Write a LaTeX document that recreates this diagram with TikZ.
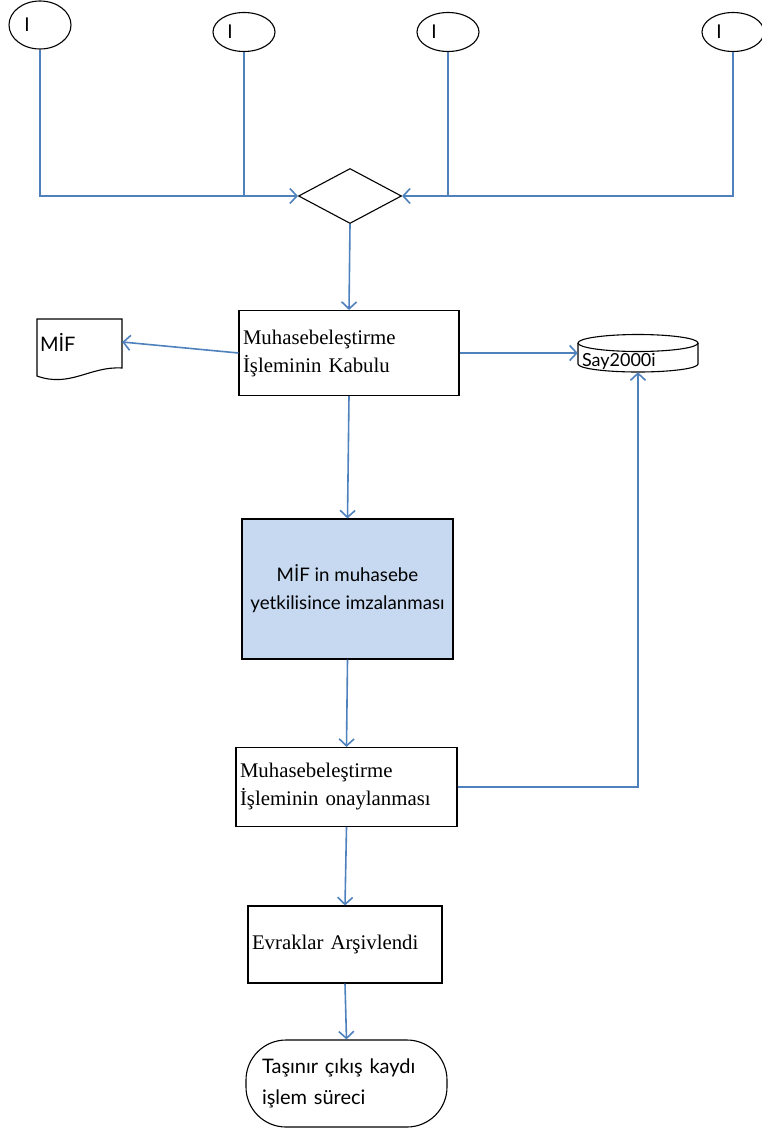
\documentclass[tikz,border=0pt]{standalone}
\usepackage{fontspec}
\setmainfont{Liberation Serif}
\newfontfamily\gill{Lato}
\usetikzlibrary{arrows.meta,shapes.geometric}
\definecolor{linkblue}{RGB}{79,129,189}
\definecolor{boxblue}{RGB}{198,217,241}
\tikzset{
  conn/.style={draw=linkblue, line width=1.6pt},
  arr/.style={conn, -{Straight Barb[length=7pt,width=15pt,line width=1.6pt]}},
  outl/.style={draw=black, line width=1.1pt},
  conn4/.style={ellipse, outl, inner sep=0pt, minimum width=62pt, minimum height=39pt},
  procbox/.style={rectangle, outl, inner sep=4pt, align=left, font=\fontsize{20.8}{28}\selectfont},
  ilbl/.style={font=\gill\fontsize{19}{20}\selectfont},
}
\begin{document}
\begin{tikzpicture}[x=1pt,y=-1pt]
\useasboundingbox (0,0) rectangle (761,1140);

% connectors (ellipses)
\node[conn4, minimum height=48pt, label={[ilbl, xshift=-13pt]center:I}] (e1) at (40,25) {};
\node[conn4, label={[ilbl, xshift=-14pt]center:I}] (e2) at (244,32) {};
\node[conn4, label={[ilbl, xshift=-14pt]center:I}] (e3) at (448,32) {};
\node[conn4, label={[ilbl, xshift=-14pt]center:I}] (e4) at (733,32) {};

% decision
\node[diamond, outl, inner sep=0pt, minimum width=103pt, minimum height=55pt] (dia) at (350,196) {};

% process boxes
\node[procbox, minimum width=220pt, minimum height=85pt, text width=212pt] (b1) at (349,353)
  {Muhasebeleştirme\\İşleminin Kabulu};
\node[rectangle, outl, fill=boxblue, minimum width=211pt, minimum height=140pt, align=center,
  font=\gill\fontsize{18.7}{28}\selectfont] (b2) at (347.5,589)
  {MİF in muhasebe\\yetkilisince imzalanması};
\node[procbox, minimum width=221pt, minimum height=79pt, text width=213pt] (b3) at (346.5,787)
  {Muhasebeleştirme\\İşleminin onaylanması};
\node[procbox, minimum width=194pt, minimum height=77pt, text width=186pt] (b4) at (345,944.5)
  {Evraklar Arşivlendi};

% terminal
\node[rectangle, outl, rounded corners=40pt, minimum width=201pt, minimum height=87pt,
  inner xsep=16pt, text width=169pt, align=left, font=\gill\fontsize{20}{31}\selectfont] (term) at (346.5,1083.5)
  {Taşınır çıkış kaydı\\işlem süreci};

% document MİF
\node[rectangle, inner sep=3pt, minimum width=85pt, minimum height=50pt, text width=79pt, align=left,
  font=\gill\fontsize{20}{22}\selectfont] (mif) at (79.5,342) {MİF};
\draw[outl] (37,319) -- (122,319) -- (122,368)
  .. controls (90,366) and (70,388) .. (37,376) -- cycle;

% database Say2000i
\node[rectangle, inner sep=0pt, minimum width=120pt, minimum height=38pt,
  label={[font=\gill\fontsize{18}{20}\selectfont, anchor=base west, inner sep=0pt, xshift=4pt, yshift=6pt]south west:Say2000i}] (say) at (638,353) {};
\draw[outl] (578,343) -- (578,364) arc[start angle=180, end angle=0, x radius=60, y radius=8] -- (698,343);
\draw[outl] (638,343) ellipse [x radius=60, y radius=8.5];

% connections
\draw[arr] (e1.south) |- (dia.west);
\draw[conn] (e2.south) -- (e2.south |- dia.west);
\draw[conn] (e3.south) -- (e3.south |- dia.west);
\draw[arr] (e4.south) |- (dia.east);
\draw[arr] (dia.south) -- (b1.north);
\draw[arr] (b1.west) -- (mif.east);
\draw[arr] (b1.east) -- (say.west);
\draw[arr] (b1.south) -- (b2.north);
\draw[arr] (b2.south) -- (b3.north);
\draw[arr] (b3.east) -| (say.south);
\draw[arr] (b3.south) -- (b4.north);
\draw[arr] (b4.south) -- (term.north);
\end{tikzpicture}
\end{document}
